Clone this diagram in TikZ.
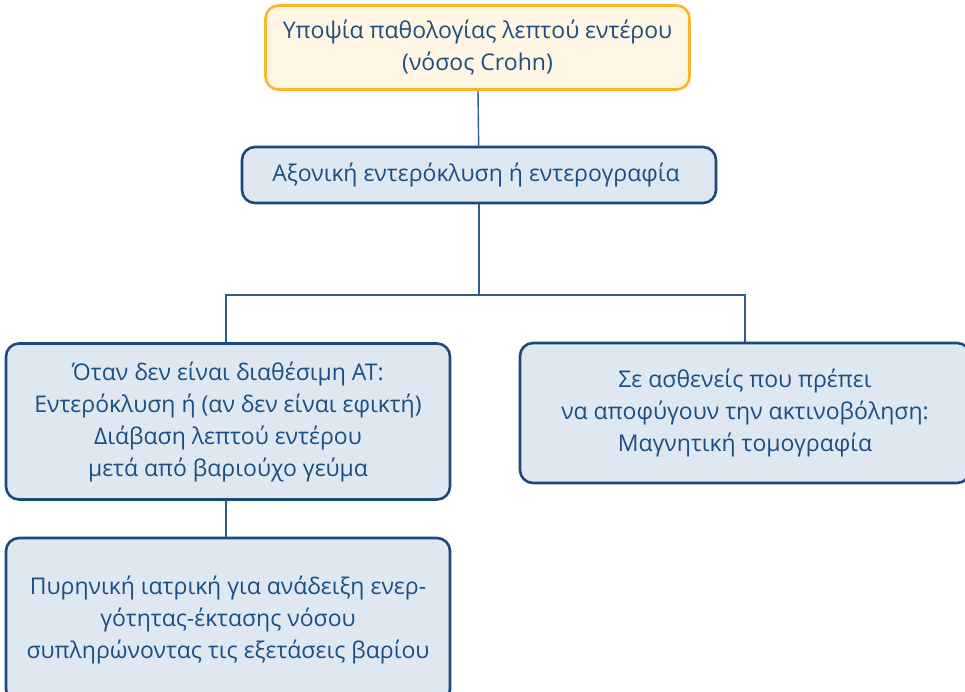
\documentclass[tikz,border=0pt]{standalone}
\usepackage{fontspec}
\setmainfont{Open Sans}
\usetikzlibrary{positioning}
\definecolor{txtblue}{HTML}{1C4E80}
\definecolor{boxblue}{HTML}{DFE7F0}
\definecolor{edgeblue}{HTML}{1A4A7C}
\definecolor{linkblue}{HTML}{2E5C8E}
\definecolor{boxcream}{HTML}{FEF5E3}
\definecolor{edgegold}{HTML}{F8B72A}

\begin{document}
\begin{tikzpicture}[
        x=1pt, y=-1pt,
        stage/.style={rectangle, rounded corners=13pt, draw=edgeblue, line width=2.6pt,
            fill=boxblue, text=txtblue, align=center, inner sep=0pt,
            font=\fontsize{23}{32}\selectfont},
        suspect/.style={stage, draw=edgegold, fill=boxcream},
        link/.style={draw=linkblue, line width=1.4pt},
    ]
        \useasboundingbox (0,0) rectangle (965,692);
        \clip (0,0) rectangle (965,692);

        % Start
        \node[suspect, minimum width=424pt, minimum height=84pt] (suspicion) at (477.5,47.5) {
            Υποψία παθολογίας λεπτού εντέρου\\
            (νόσος Crohn)
        };

        % First examination
        \node[stage, minimum width=474pt, minimum height=56pt] (axial) at (479,175) {
            Αξονική εντερόκλυση ή εντερογραφία
        };

        % Alternatives
        \node[stage, minimum width=444pt, minimum height=156pt] (noct) at (228,421.5) {
            Όταν δεν είναι διαθέσιμη ΑΤ:\\
            Εντερόκλυση ή (αν δεν είναι εφικτή)\\
            Διάβαση λεπτού εντέρου\\
            μετά από βαριούχο γεύμα
        };
        \node[stage, minimum width=450pt, minimum height=140pt] (mri) at (745,413) {
            Σε ασθενείς που πρέπει\\
            να αποφύγουν την ακτινοβόληση:\\
            Μαγνητική τομογραφία
        };

        % Nuclear medicine
        \node[stage, minimum width=444pt, minimum height=164pt] (nuclear) at (228,620) {
            Πυρηνική ιατρική για ανάδειξη ενερ-\\
            γότητας-έκτασης νόσου\\
            συπληρώνοντας τις εξετάσεις βαρίου
        };

        % Connections
        \coordinate (split) at (479,295);
        \draw[link] (suspicion) -- (axial);
        \draw[link] (axial) -- (split);
        \draw[link] (noct.north -| 226,0) |- (split) -| (mri.north);
        \draw[link] (noct.south -| 226,0) -- (nuclear.north -| 226,0);
    \end{tikzpicture}
\end{document}
